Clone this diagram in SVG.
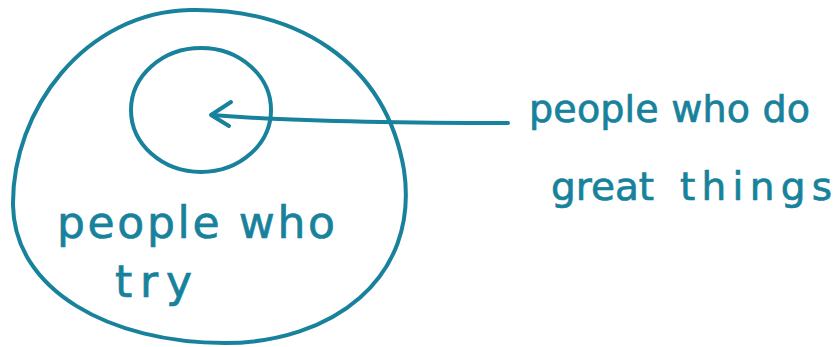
<svg xmlns="http://www.w3.org/2000/svg" width="836" height="347" viewBox="0 0 836 347">
<style>
.ink{fill:none;stroke:#18829c;stroke-width:4;stroke-linecap:round;stroke-linejoin:round}
.t{font-family:"DejaVu Sans","Liberation Sans",sans-serif;fill:#18829c;stroke:#18829c;stroke-width:0.7}
</style>
<rect width="836" height="347" fill="#ffffff"/>
<g id="outer">
<path class="ink" d="M190 10 C295 8 385 60 404 170 C420 280 330 343 225 343 C110 343 14 290 13 205 C12 110 85 12 190 10 Z"/>
<text class="t" x="57" y="238" font-size="44" textLength="278" lengthAdjust="spacing">people who</text>
<text class="t" x="115" y="297" font-size="44" textLength="77" lengthAdjust="spacing">try</text>
</g>
<g id="inner">
<ellipse class="ink" cx="201" cy="110" rx="70" ry="62"/>
</g>
<g id="label">
<text class="t" x="529" y="122" font-size="38" textLength="281" lengthAdjust="spacing">people who do</text>
<text class="t" y="200" font-size="39"><tspan x="551">great</tspan> <tspan x="680" textLength="152" lengthAdjust="spacing">things</tspan></text>
</g>
<g id="connectors">
<path class="ink" d="M508 123 C400 123 300 122 212 115"/>
<polyline class="ink" points="231,102 211,115 229,126"/>
</g>
</svg>
